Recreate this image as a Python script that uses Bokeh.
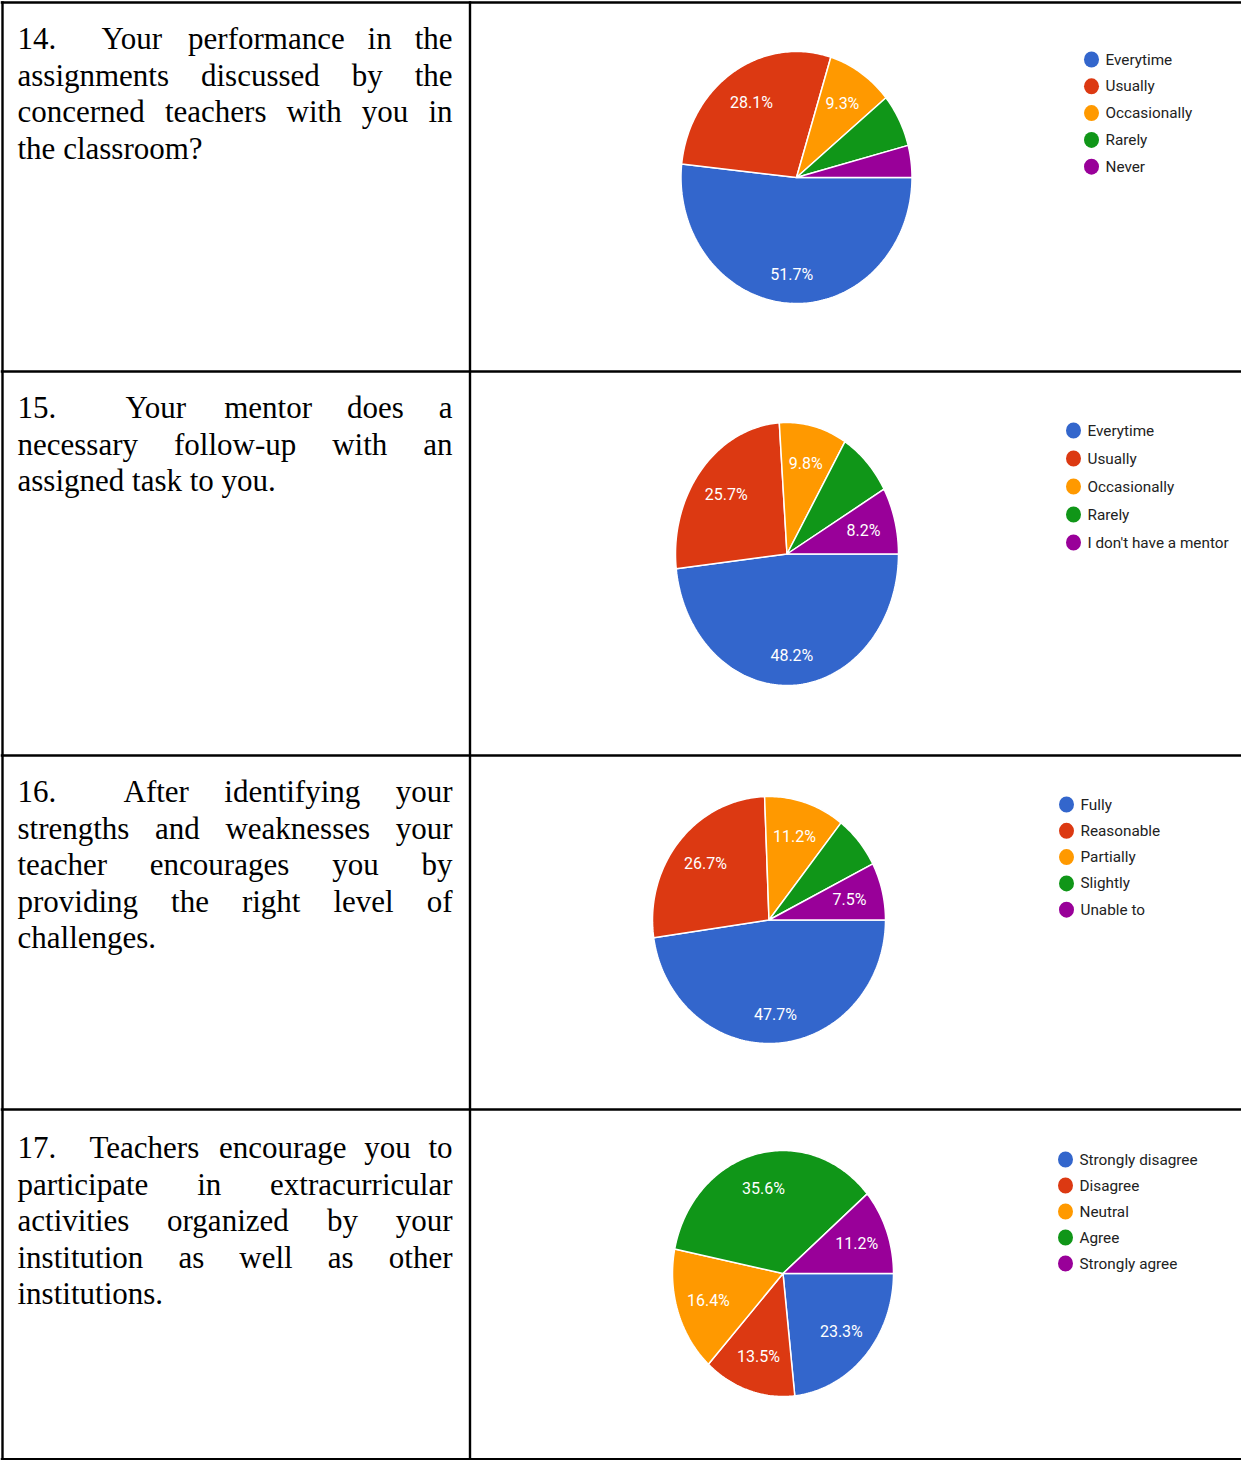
import math
from bokeh.plotting import figure
from bokeh.models import Range1d, ColumnDataSource
from bokeh.core.properties import value
from bokeh.embed import file_html
from bokeh.resources import INLINE

# ---------------- data ----------------
q14_lines = [["14.", "Your", "performance", "in", "the"],
             ["assignments", "discussed", "by", "the"],
             ["concerned", "teachers", "with", "you", "in"],
             ["the", "classroom?"]]
q15_lines = [["15.", "Your", "mentor", "does", "a"],
             ["necessary", "follow-up", "with", "an"],
             ["assigned", "task", "to", "you."]]
q16_lines = [["16.", "After", "identifying", "your"],
             ["strengths", "and", "weaknesses", "your"],
             ["teacher", "encourages", "you", "by"],
             ["providing", "the", "right", "level", "of"],
             ["challenges."]]
q17_lines = [["17.", "Teachers", "encourage", "you", "to"],
             ["participate", "in", "extracurricular"],
             ["activities", "organized", "by", "your"],
             ["institution", "as", "well", "as", "other"],
             ["institutions."]]

q14_categories = ["Everytime", "Usually", "Occasionally", "Rarely", "Never"]
q14_values = [51.7, 28.1, 9.3, 6.8, 4.1]
q14_labelled = [True, True, True, False, False]

q15_categories = ["Everytime", "Usually", "Occasionally", "Rarely", "I don't have a mentor"]
q15_values = [48.2, 25.7, 9.8, 8.1, 8.2]
q15_labelled = [True, True, True, False, True]

q16_categories = ["Fully", "Reasonable", "Partially", "Slightly", "Unable to"]
q16_values = [47.7, 26.7, 11.2, 6.9, 7.5]
q16_labelled = [True, True, True, False, True]

q17_categories = ["Strongly disagree", "Disagree", "Neutral", "Agree", "Strongly agree"]
q17_values = [23.3, 13.5, 16.4, 35.6, 11.2]
q17_labelled = [True, True, True, True, True]

palette = ["#3366cc", "#dc3912", "#ff9900", "#109618", "#990099"]

# ---------------- layout (screen pixels) ----------------
rows = [
    dict(lines=q14_lines, base=38, tab=101, cats=q14_categories, vals=q14_values, lab=q14_labelled,
         cx=796, cy=177, rx=115.5, ry=126, lx=1091, ly=59, lstep=26.8),
    dict(lines=q15_lines, base=407, tab=125, cats=q15_categories, vals=q15_values, lab=q15_labelled,
         cx=786.5, cy=553.5, rx=111.5, ry=131.5, lx=1073, ly=430, lstep=28),
    dict(lines=q16_lines, base=791, tab=123, cats=q16_categories, vals=q16_values, lab=q16_labelled,
         cx=768.5, cy=919.5, rx=116.5, ry=123.5, lx=1066, ly=804, lstep=26.3),
    dict(lines=q17_lines, base=1147, tab=89, cats=q17_categories, vals=q17_values, lab=q17_labelled,
         cx=782.5, cy=1273, rx=110.5, ry=123, lx=1065, ly=1159, lstep=26),
]

W, H = 1241, 1460
p = figure(width=W, height=H, x_range=Range1d(0, W), y_range=Range1d(H, 0),
           output_backend="svg", toolbar_location=None, min_border=0,
           x_axis_location=None, y_axis_location=None)
p.grid.visible = False
p.outline_line_color = None
p.background_fill_color = "white"
p.border_fill_color = "white"

# table borders
hy = [2, 371, 755, 1109, 1458.8]
p.segment(x0=[0] * len(hy), y0=hy, x1=[W] * len(hy), y1=hy, line_color="#000000", line_width=2.4)
vx = [2, 469.5]
p.segment(x0=vx, y0=[0.8, 0.8], x1=vx, y1=[1460, 1460], line_color="#000000", line_width=2.4)

# Times / Liberation Serif advance widths (per 1000 em)
TW = {' ': 250, '.': 250, '?': 444, '-': 333, "'": 180, ',': 250}
for ch in '0123456789':
    TW[ch] = 500
TW.update(dict(A=722, B=667, C=667, D=722, E=611, F=556, G=722, H=722, I=333, J=389, K=722, L=611,
               M=889, N=722, O=722, P=556, Q=722, R=667, S=556, T=611, U=722, V=722, W=944, X=722,
               Y=722, Z=611))
TW.update(dict(a=444, b=500, c=444, d=500, e=444, f=333, g=500, h=500, i=278, j=278, k=500, l=278,
               m=778, n=500, o=500, p=500, q=500, r=333, s=389, t=278, u=500, v=500, w=722, x=500,
               y=500, z=444))
FS = 31.0


def tw(word):
    return sum(TW.get(c, 500) for c in word) * FS / 1000.0


LEFT, RIGHT, LSTEP = 17, 452, 36.5
lx_, ly_, lt_ = [], [], []
rx_, ry_, rt_ = [], [], []


def place(words, left, right, y, justify):
    widths = [tw(w) for w in words]
    if justify and len(words) > 1:
        gap = (right - left - sum(widths)) / (len(words) - 1)
    else:
        gap = tw(' ')
    x = left
    for i, w in enumerate(words):
        if justify and len(words) > 1 and i == len(words) - 1:
            rx_.append(right); ry_.append(y); rt_.append(w)
        else:
            lx_.append(x); ly_.append(y); lt_.append(w)
        x += widths[i] + gap


for r in rows:
    lines = r["lines"]
    for k, words in enumerate(lines):
        y = r["base"] + k * LSTEP
        last = (k == len(lines) - 1)
        if k == 0:
            lx_.append(LEFT); ly_.append(y); lt_.append(words[0])
            place(words[1:], r["tab"], RIGHT, y, True)
        else:
            place(words, LEFT, RIGHT, y, not last)

p.text(x=lx_, y=ly_, text=lt_, text_font=value("Liberation Serif"), text_font_size="%gpx" % FS,
       text_color="#000000", text_align="left", text_baseline="alphabetic")
p.text(x=rx_, y=ry_, text=rt_, text_font=value("Liberation Serif"), text_font_size="%gpx" % FS,
       text_color="#000000", text_align="right", text_baseline="alphabetic")

# pies
xs, ys, cols = [], [], []
tx, ty, tt = [], [], []
gx, gy, gc, gtx, gty, gtt = [], [], [], [], [], []
for r in rows:
    total = sum(r["vals"])
    start = 0.0
    for i, v in enumerate(r["vals"]):
        a0 = 2 * math.pi * start / total
        a1 = 2 * math.pi * (start + v) / total
        n = max(2, int(math.degrees(a1 - a0)) + 2)
        px = [r["cx"]] + [r["cx"] + r["rx"] * math.cos(a0 + (a1 - a0) * j / (n - 1)) for j in range(n)]
        py = [r["cy"]] + [r["cy"] + r["ry"] * math.sin(a0 + (a1 - a0) * j / (n - 1)) for j in range(n)]
        xs.append(px); ys.append(py); cols.append(palette[i])
        if r["lab"][i]:
            am = (a0 + a1) / 2
            f = 0.77 if v > 40 else 0.71
            tx.append(r["cx"] + f * r["rx"] * math.cos(am))
            ty.append(r["cy"] + f * r["ry"] * math.sin(am))
            tt.append("%.1f%%" % v)
        start += v
    for i, c in enumerate(r["cats"]):
        yy = r["ly"] + i * r["lstep"]
        gx.append(r["lx"]); gy.append(yy); gc.append(palette[i])
        gtx.append(r["lx"] + 14); gty.append(yy); gtt.append(c)

p.patches(xs="xs", ys="ys", fill_color="cols", line_color="white", line_width=1.5,
          source=ColumnDataSource(dict(xs=xs, ys=ys, cols=cols)))
p.text(x=tx, y=ty, text=tt, text_font=value("Roboto"), text_font_size="16px", text_color="white",
       text_align="center", text_baseline="middle")
p.ellipse(x=gx, y=gy, width=15, height=16, width_units="screen", height_units="screen",
          fill_color=gc, line_color=None)
p.text(x=gtx, y=gty, text=gtt, text_font=value("Roboto"), text_font_size="15.3px", text_color="#222222",
       text_align="left", text_baseline="middle")

open("out.html", "w").write(file_html(p, INLINE))
